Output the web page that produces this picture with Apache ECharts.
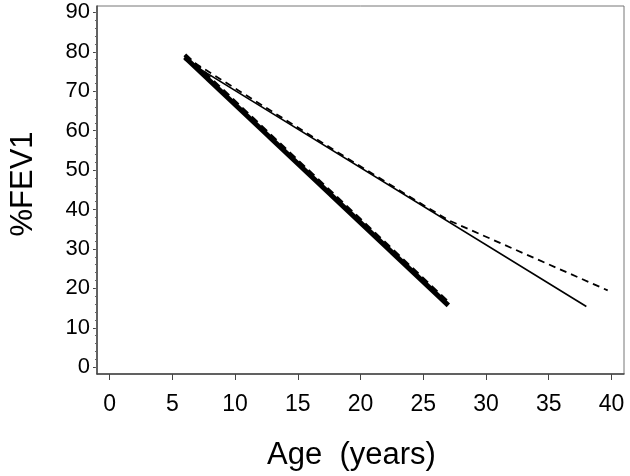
<!DOCTYPE html>
<html>
<head>
<meta charset="utf-8">
<script src="https://cdn.jsdelivr.net/npm/echarts@6/dist/echarts.min.js"></script>
<style>
  html, body { margin: 0; padding: 0; background: #fff; }
  #chart { width: 630px; height: 476px; }
</style>
</head>
<body>
<div id="chart"></div>
<script>
// tick labels
var xTicks = [0, 5, 10, 15, 20, 25, 30, 35, 40];
var yTicks = [0, 10, 20, 30, 40, 50, 60, 70, 80, 90];
var yMinorTicks = [];
for (var v = 0; v <= 90; v += 2) yMinorTicks.push(v);

// [age, %FEV1]
var thickSolid = [[6, 78.6], [27, 15.7]];
var thickDashed = [[6, 79.2], [27, 16.3]];
var thinSolid = [[6, 78], [38, 15.4]];
var thinDashed = [[6, 78.7], [16, 58.8], [24, 43.1], [25.5, 40.2], [27, 37.3], [30, 33.1], [35, 26.1], [39.7, 19.5]];

var font = "Liberation Sans, Arial, sans-serif";

var chart = echarts.init(document.getElementById("chart"));
var option = {
  animation: false,
  backgroundColor: "#fff",
  grid: {
    left: 92,
    right: 6,
    top: 6,
    bottom: 102,
    show: true,
    borderColor: "#777",
    borderWidth: 1,
    containLabel: false
  },
  xAxis: {
    type: "value",
    min: -1,
    max: 41,
    name: "Age  (years)",
    nameLocation: "middle",
    nameGap: 66,
    nameTextStyle: { fontSize: 31, color: "#000", fontFamily: font, padding: [0, 18, 0, 0] },
    axisLine: { show: true, onZero: false, lineStyle: { color: "#444", width: 1.5 } },
    axisTick: { show: true, length: 6, customValues: xTicks, lineStyle: { color: "#444" } },
    axisLabel: { customValues: xTicks, fontSize: 23, color: "#000", fontFamily: font, margin: 19 },
    splitLine: { show: false }
  },
  yAxis: [
    {
      type: "value",
      min: -1.7,
      max: 91.6,
      name: "%FEV1",
      nameLocation: "middle",
      nameGap: 58,
      nameRotate: 90,
      nameTextStyle: { fontSize: 31, color: "#000", fontFamily: font, padding: [0, 0, 0, 12] },
      axisLine: { show: true, onZero: false, lineStyle: { color: "#444", width: 1.5 } },
      axisTick: { show: true, length: 4, customValues: yTicks, lineStyle: { color: "#444" } },
      axisLabel: { customValues: yTicks, fontSize: 22, color: "#000", fontFamily: font, margin: 7 },
      splitLine: { show: false }
    },
    {
      type: "value",
      position: "left",
      min: -1.7,
      max: 91.6,
      axisLine: { show: false, onZero: false },
      axisTick: { show: true, length: 2, customValues: yMinorTicks, lineStyle: { color: "#666" } },
      axisLabel: { show: false },
      splitLine: { show: false }
    }
  ],
  series: [
    {
      type: "line",
      data: thickSolid,
      symbol: "none",
      lineStyle: { color: "#000", width: 5 }
    },
    {
      type: "line",
      data: thickDashed,
      symbol: "none",
      lineStyle: { color: "#000", width: 4, type: [8, 5] }
    },
    {
      type: "line",
      data: thinSolid,
      symbol: "none",
      lineStyle: { color: "#000", width: 1.6 }
    },
    {
      type: "line",
      data: thinDashed,
      symbol: "none",
      lineStyle: { color: "#000", width: 1.8, type: [7, 5] }
    }
  ]
};
chart.setOption(option);
</script>
</body>
</html>
